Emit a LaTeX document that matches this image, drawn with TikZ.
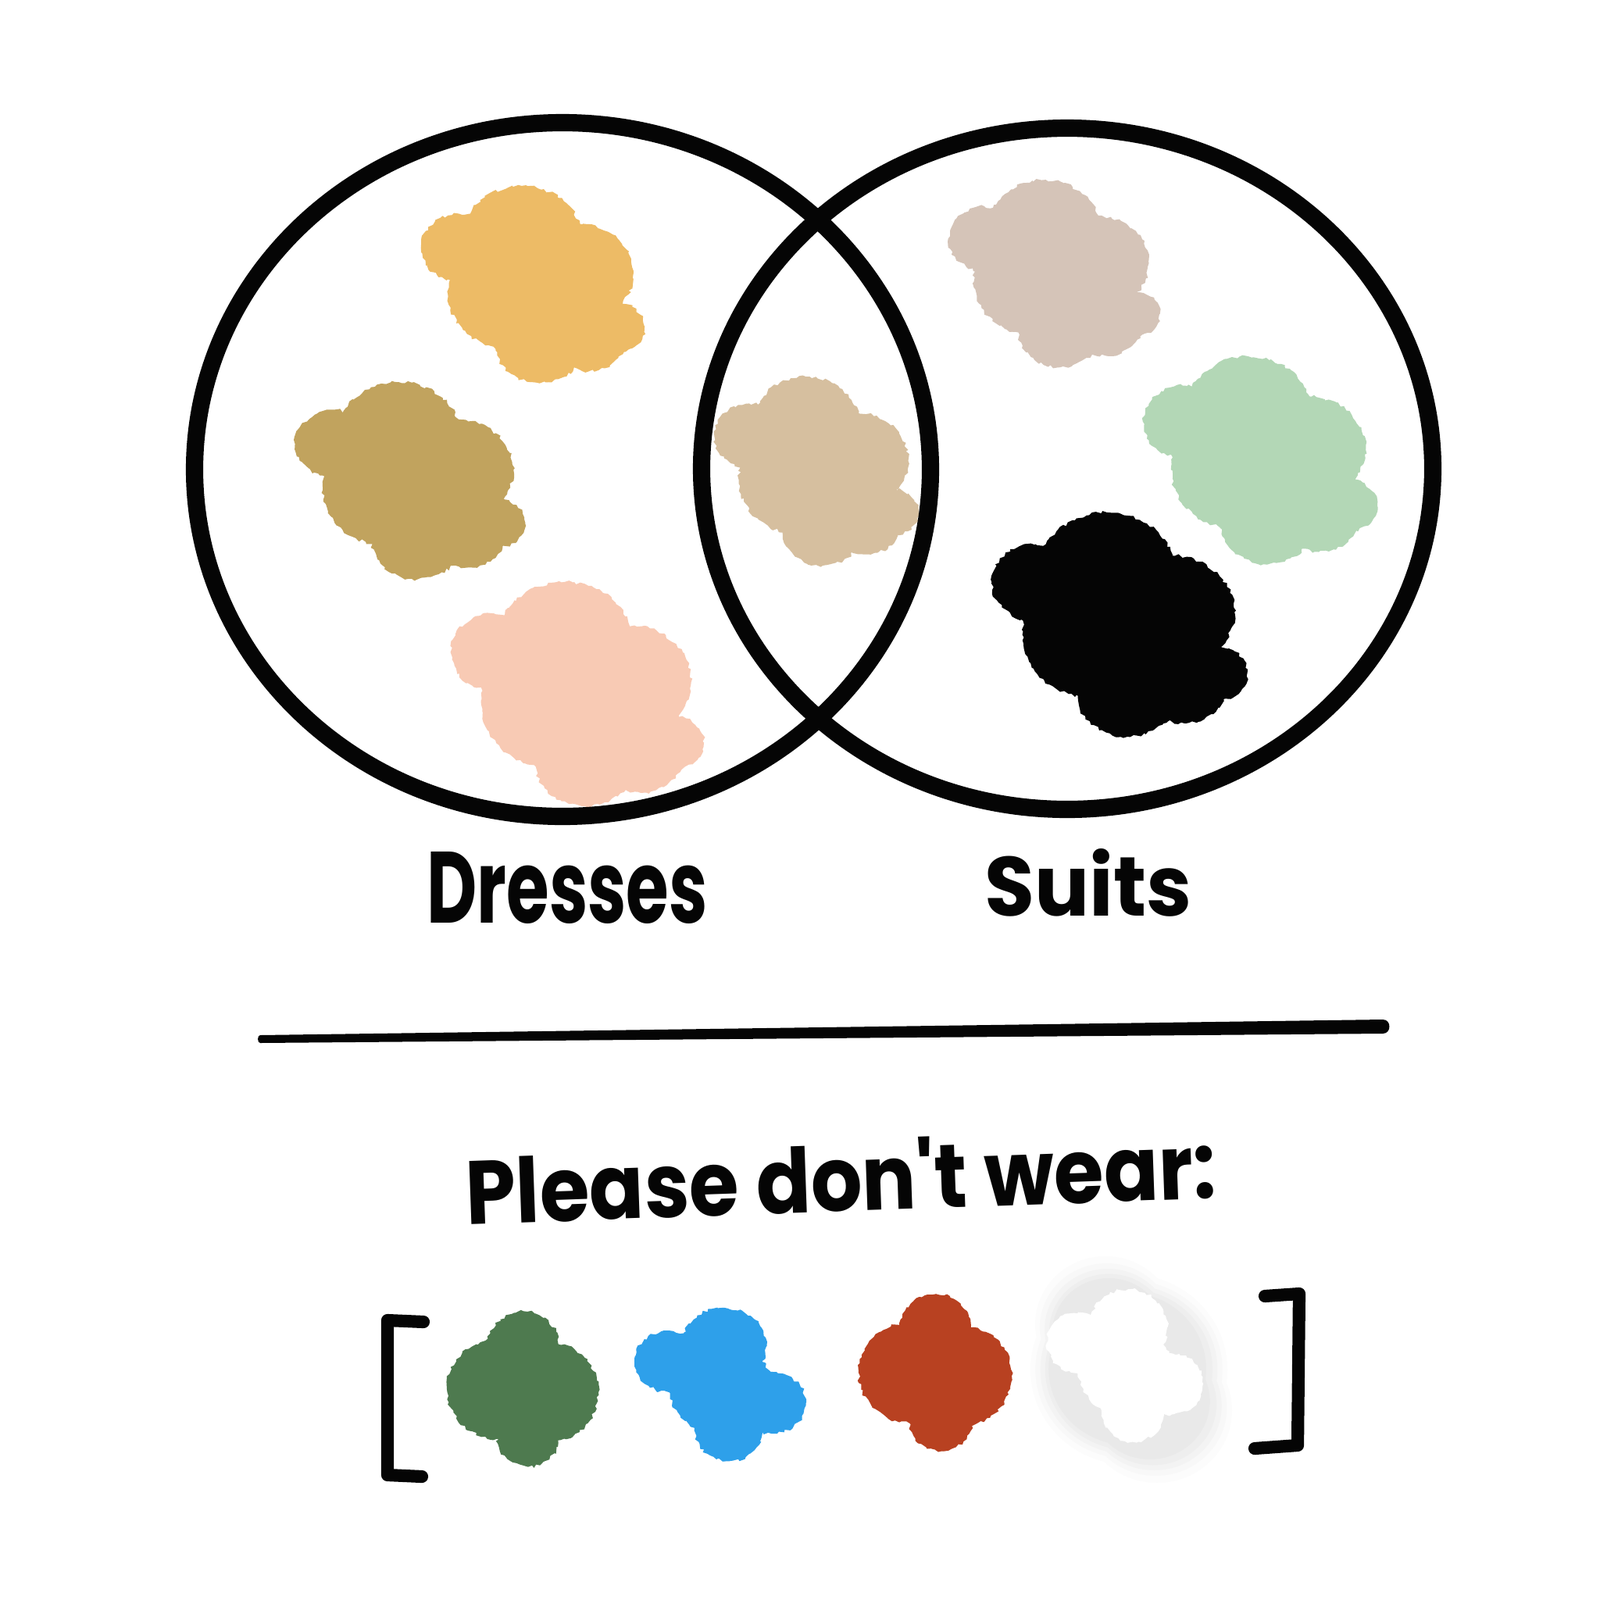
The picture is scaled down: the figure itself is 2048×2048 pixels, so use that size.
\documentclass[tikz,border=0pt]{standalone}
\usepackage{fontspec}
\usepackage{graphicx}
\newfontfamily\hand{Poppins}
\usetikzlibrary{decorations.pathmorphing}
\definecolor{cYellow}{HTML}{EDBB66}
\definecolor{cOlive}{HTML}{C1A35E}
\definecolor{cPink}{HTML}{F8CAB4}
\definecolor{cTan}{HTML}{D6BF9F}
\definecolor{cTaupe}{HTML}{D5C4B8}
\definecolor{cMint}{HTML}{B3D7B6}
\definecolor{cInk}{HTML}{050505}
\definecolor{cGreen}{HTML}{4E7A4F}
\definecolor{cBlue}{HTML}{2EA0EA}
\definecolor{cRed}{HTML}{B84121}
\newcommand\cloudA{(-0.33,-0.18) circle[radius=0.17] (-0.05,-0.22) circle[radius=0.27] (0.2,-0.05) circle[radius=0.25] (0.38,0.22) circle[radius=0.12] (-0.1,0.05) circle[radius=0.28] (0.03,0.3) circle[radius=0.2] (0.25,0.27) circle[radius=0.17]}
\newcommand\cloudB{(0,-0.27) circle[radius=0.23] (-0.17,0.0) circle[radius=0.32] (0.16,0.02) circle[radius=0.32] (0.03,0.3) circle[radius=0.2]}
\newcommand\cloudC{(-0.3,-0.15) circle[radius=0.2] (0.02,-0.25) circle[radius=0.25] (0.0,0.02) circle[radius=0.3] (0.3,0.12) circle[radius=0.2] (0.05,0.3) circle[radius=0.2]}
\newcommand\cloudD{(0,0) circle[radius=0.42] (-0.1,-0.2) circle[radius=0.3] (0.12,0.18) circle[radius=0.32]}
\newcommand\blobA[5]{\begin{scope}[shift={(#2,#3)},xscale=#4,yscale=#5]\fill[#1,crayon] \cloudA;\end{scope}}
\newcommand\blobB[5]{\begin{scope}[shift={(#2,#3)},xscale=#4,yscale=#5]\fill[#1,crayon] \cloudB;\end{scope}}
\newcommand\blobC[5]{\begin{scope}[shift={(#2,#3)},xscale=#4,yscale=#5]\fill[#1,crayon] \cloudC;\end{scope}}
\newcommand\haze[5]{\begin{scope}[shift={(#2,#3)},xscale=#4,yscale=#5]\fill[#1] \cloudD;\end{scope}}
\tikzset{
  crayon/.style={decorate,decoration={random steps,segment length=1.2pt,amplitude=0.6pt}},
  ring/.style={draw=cInk,line width=6.3pt},
  brk/.style={draw=cInk,line width=4.6pt,line cap=round,line join=round},
  lbl/.style={inner sep=0pt,text=cInk}
}
\begin{document}
\begin{tikzpicture}[x=0.01cm,y=-0.01cm]
\useasboundingbox (0,0) rectangle (2048,2048);
\fill[white] (0,0) rectangle (2048,2048);
% blobs inside the Venn diagram
\blobA{cYellow}{682}{363}{286}{255}
\blobA{cOlive}{525}{614}{294}{255}
\blobA{cPink}{739}{887}{324}{290}
\blobA{cTan}{1045}{602}{261}{244}
\blobA{cTaupe}{1349}{349}{270}{242}
\blobA{cMint}{1613}{588}{300}{269}
\blobA{cInk}{1433}{798}{327}{290}
% Venn circles
\draw[ring] (720,601) ellipse [x radius=471, y radius=444];
\draw[ring] (1366,600) ellipse [x radius=468, y radius=436];
% labels
\node[lbl] (dresses) at (726,1136) {\resizebox{3.59cm}{0.91cm}{\hand\bfseries Dresses}};
\node[lbl] (suits) at (1393,1130) {\resizebox{2.65cm}{0.86cm}{\hand\bfseries Suits}};
% divider
\fill[cInk] (333,1325) -- (1770,1305) to[out=0,in=0,looseness=1.6] (1770,1323) -- (333,1335) to[out=180,in=180] cycle;
% heading
\node[lbl,rotate=2] (please) at (1076,1505) {\resizebox{9.6cm}{0.92cm}{\hand\bfseries Please don't wear:}};
% brackets
\draw[brk] (542,1692) -- (496,1690) -- (496,1888) -- (540,1890);
\draw[brk] (1619,1659) -- (1663,1656) -- (1661,1850) -- (1606,1854);
% forbidden colours
\blobB{cGreen}{670}{1778}{200}{199}
\blobC{cBlue}{922}{1772}{219}{196}
\blobB{cRed}{1198}{1757}{202}{201}
\haze{gray!40,opacity=0.06}{1445}{1753}{300}{290}
\haze{gray!40,opacity=0.08}{1445}{1753}{285}{272}
\haze{gray!40,opacity=0.10}{1445}{1753}{270}{258}
\haze{gray!40,opacity=0.12}{1445}{1753}{255}{245}
\haze{gray!40,opacity=0.14}{1443}{1752}{240}{232}
\blobC{white}{1440}{1748}{200}{195}
\end{tikzpicture}
\end{document}
